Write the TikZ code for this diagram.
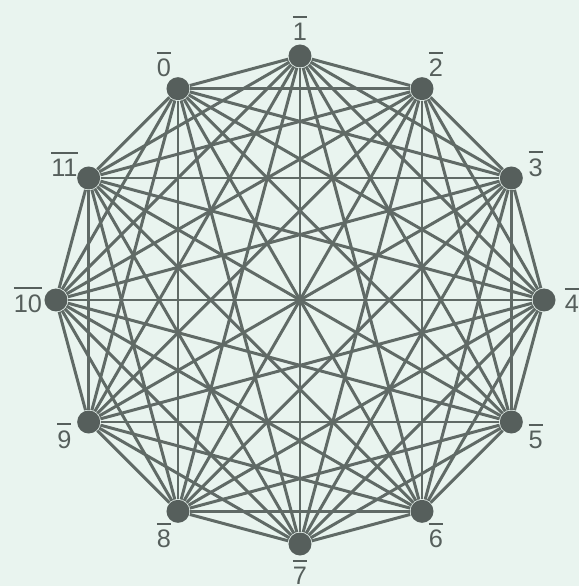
\documentclass[tikz,border=0pt]{standalone}
\usepackage{fontspec}
\setmainfont{Liberation Sans}
\definecolor{bgmint}{RGB}{233,244,239}
\definecolor{edgegray}{RGB}{96,106,102}
\definecolor{vertgray}{RGB}{86,95,92}
\newcommand{\clsbar}[1]{\vbox{\hrule height 0.55pt\kern 1.5pt\hbox{#1}}}

\begin{document}
\begin{tikzpicture}[
    vert/.style={circle, fill=vertgray, inner sep=0pt, minimum size=0.23cm},
    lbl/.style={text=vertgray, font=\fontsize{7.2}{8}\selectfont, inner sep=0pt},
    edge/.style={edgegray, line width=0.85pt}]
    \fill[bgmint] (-3.00,-2.86) rectangle (2.79,3.00);
    % vertices of Z_12, 1 at the top
    \foreach \k in {0,...,11} {
        \node[vert] (v\k) at ({120-30*\k}:2.44) {};
        \node[lbl] (l\k) at ({120-30*\k}:2.72) {\clsbar{\k}};
    }
    % every pair joined
    \foreach \i in {0,...,10} {
        \pgfmathtruncatemacro{\nxt}{\i+1}
        \foreach \j in {\nxt,...,11}
            \draw[edge] (v\i) -- (v\j);
    }
\end{tikzpicture}
\end{document}
